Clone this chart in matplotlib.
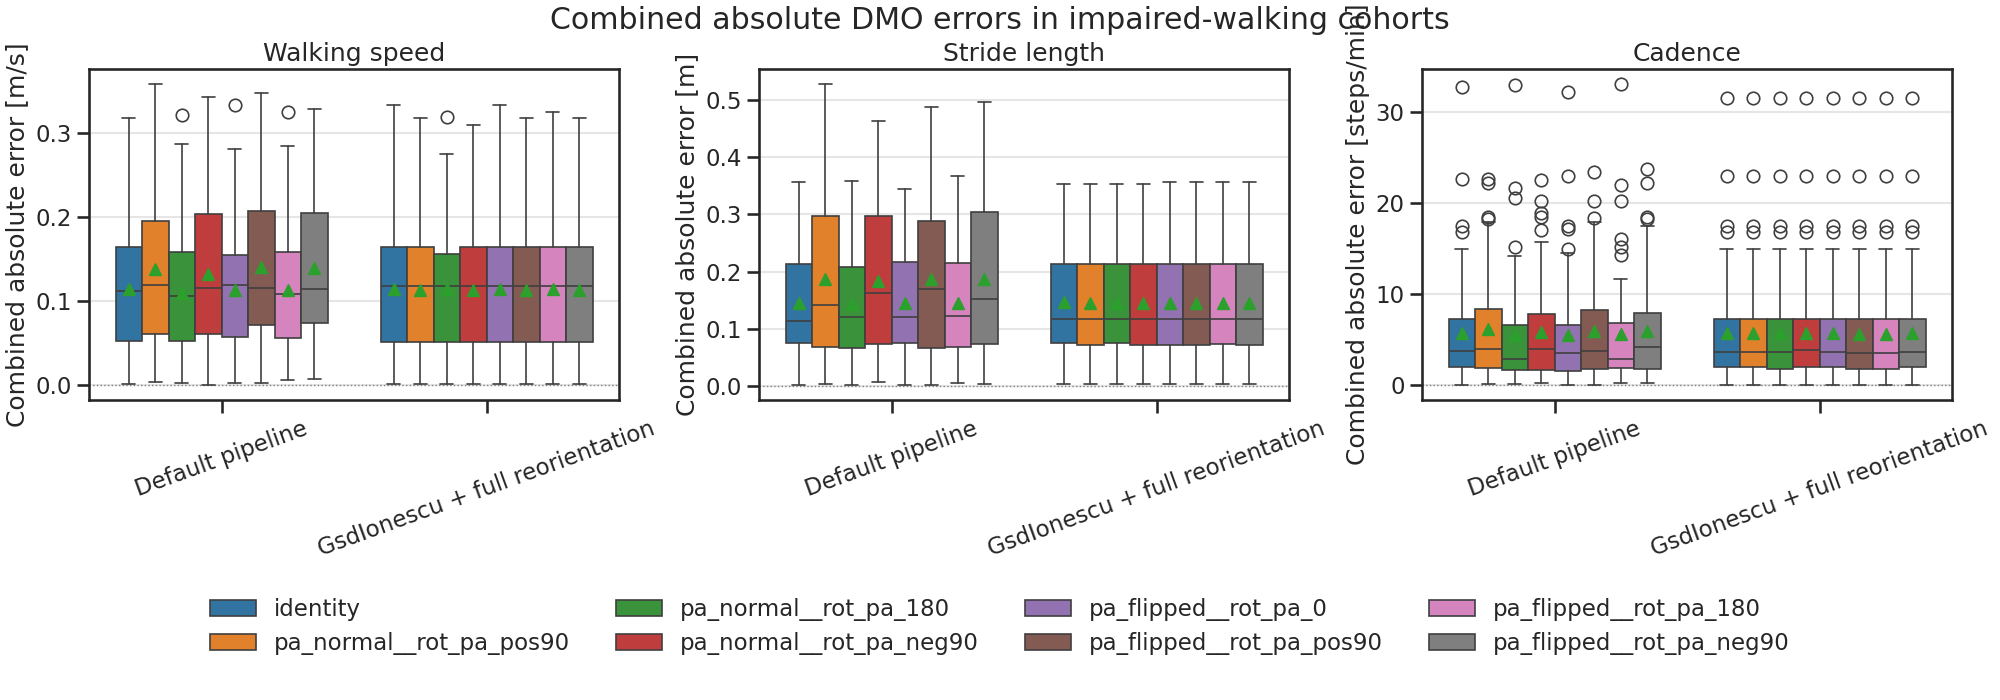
import numpy as np
import seaborn as sns
from matplotlib import pyplot as plt
from matplotlib.patches import Patch

sns.set_theme(context="talk", style="ticks")
plt.rcParams["font.family"] = ["DejaVu Sans"]

hue_labels = [
    "identity", "pa_normal__rot_pa_pos90", "pa_normal__rot_pa_180", "pa_normal__rot_pa_neg90",
    "pa_flipped__rot_pa_0", "pa_flipped__rot_pa_pos90", "pa_flipped__rot_pa_180", "pa_flipped__rot_pa_neg90",
]
pipelines = ["Default pipeline", "GsdIonescu + full reorientation"]

# walking speed [m/s]  (first list: default pipeline, second: GsdIonescu)
speed_whislo = [[0.001, 0.003, 0.002, 0.0, 0.002, 0.002, 0.006, 0.007],
                [0.001, 0.001, 0.001, 0.001, 0.001, 0.001, 0.001, 0.001]]
speed_q1 = [[0.052, 0.061, 0.052, 0.061, 0.057, 0.071, 0.056, 0.074],
            [0.051, 0.051, 0.051, 0.051, 0.051, 0.051, 0.051, 0.051]]
speed_med = [[0.112, 0.119, 0.106, 0.116, 0.119, 0.116, 0.108, 0.114],
             [0.118, 0.118, 0.118, 0.118, 0.118, 0.118, 0.118, 0.118]]
speed_q3 = [[0.165, 0.196, 0.159, 0.204, 0.155, 0.208, 0.159, 0.205],
            [0.165, 0.165, 0.156, 0.165, 0.165, 0.165, 0.165, 0.165]]
speed_whishi = [[0.319, 0.359, 0.287, 0.343, 0.282, 0.348, 0.285, 0.329],
                [0.334, 0.319, 0.276, 0.310, 0.334, 0.319, 0.325, 0.319]]
speed_mean = [[0.114, 0.138, 0.110, 0.132, 0.113, 0.141, 0.113, 0.139],
              [0.114, 0.113, 0.114, 0.113, 0.114, 0.113, 0.114, 0.113]]
speed_fliers = [[[], [], [0.322], [], [0.334], [], [0.325], []],
                [[], [], [0.320], [], [], [], [], []]]

# stride length [m]
stride_whislo = [[0.002, 0.0035, 0.002, 0.008, 0.002, 0.002, 0.006, 0.0035],
                 [0.0035, 0.0035, 0.0035, 0.0035, 0.0035, 0.0035, 0.0035, 0.0035]]
stride_q1 = [[0.075, 0.069, 0.066, 0.073, 0.075, 0.066, 0.069, 0.073],
             [0.075, 0.071, 0.075, 0.071, 0.071, 0.071, 0.073, 0.071]]
stride_med = [[0.113, 0.141, 0.120, 0.162, 0.120, 0.169, 0.122, 0.153],
              [0.117, 0.117, 0.117, 0.117, 0.117, 0.117, 0.117, 0.117]]
stride_q3 = [[0.213, 0.297, 0.208, 0.298, 0.216, 0.288, 0.215, 0.304],
             [0.213, 0.213, 0.213, 0.213, 0.213, 0.213, 0.213, 0.213]]
stride_whishi = [[0.356, 0.528, 0.358, 0.463, 0.344, 0.487, 0.367, 0.497],
                 [0.354, 0.354, 0.354, 0.354, 0.356, 0.356, 0.356, 0.356]]
stride_mean = [[0.146, 0.188, 0.143, 0.184, 0.146, 0.187, 0.145, 0.187],
               [0.147, 0.146, 0.146, 0.146, 0.146, 0.146, 0.146, 0.146]]
stride_fliers = [[[], [], [], [], [], [], [], []],
                 [[], [], [], [], [], [], [], []]]

# cadence [steps/min]
cad_whislo = [[0.0, 0.1, 0.1, 0.2, 0.0, 0.0, 0.2, 0.2],
              [0.0, 0.0, 0.0, 0.0, 0.0, 0.0, 0.0, 0.0]]
cad_q1 = [[2.0, 1.9, 1.65, 1.65, 1.5, 1.7, 1.9, 1.7],
          [1.95, 1.95, 1.7, 1.95, 1.95, 1.7, 1.7, 1.95]]
cad_med = [[3.7, 3.9, 2.8, 4.0, 3.55, 3.7, 2.8, 4.2],
           [3.65, 3.65, 3.65, 3.8, 3.65, 3.55, 3.55, 3.65]]
cad_q3 = [[7.3, 8.4, 6.6, 7.8, 6.6, 8.2, 6.8, 7.95],
          [7.3, 7.3, 7.3, 7.3, 7.3, 7.3, 7.3, 7.3]]
cad_whishi = [[14.9, 17.9, 14.2, 15.7, 14.5, 17.9, 11.7, 17.5],
              [14.9, 14.9, 14.9, 14.9, 14.9, 14.9, 14.9, 14.9]]
cad_mean = [[5.75, 6.1, 5.5, 5.85, 5.5, 5.95, 5.65, 5.95],
            [5.75, 5.75, 5.7, 5.75, 5.75, 5.65, 5.65, 5.75]]
cad_fliers = [[[32.8, 22.7, 17.5, 16.8], [22.7, 22.2, 18.5, 18.3], [33.0, 21.7, 20.6, 15.2],
               [22.5, 20.2, 18.9, 18.5, 17.0], [32.2, 23.0, 17.5, 17.2, 14.9], [23.4, 20.2, 18.4],
               [33.1, 22.0, 20.2, 16.0, 15.2, 14.3], [23.7, 22.2, 18.5, 18.3]],
              [[31.6, 23.0, 17.5, 16.8], [31.6, 23.0, 17.5, 16.8], [31.6, 23.0, 17.5, 16.8],
               [31.6, 23.0, 17.5, 16.8], [31.6, 23.0, 17.5, 16.8], [31.6, 23.0, 17.5, 16.8],
               [31.6, 23.0, 17.5, 16.8], [31.6, 23.0, 17.5, 16.8]]]

panels = [
    ("Walking speed", "Combined absolute error [m/s]",
     speed_whislo, speed_q1, speed_med, speed_q3, speed_whishi, speed_mean, speed_fliers),
    ("Stride length", "Combined absolute error [m]",
     stride_whislo, stride_q1, stride_med, stride_q3, stride_whishi, stride_mean, stride_fliers),
    ("Cadence", "Combined absolute error [steps/min]",
     cad_whislo, cad_q1, cad_med, cad_q3, cad_whishi, cad_mean, cad_fliers),
]

colors = sns.color_palette("tab10", desat=0.75)[:8]
line_color = "#3f3f3f"
lw = 1.2

fig = plt.figure(figsize=(20, 7), dpi=100)
lefts = [0.0445, 0.3795, 0.711]

n_hue = len(hue_labels)
box_w = 0.8 / n_hue
offsets = (np.arange(n_hue) - (n_hue - 1) / 2) * box_w

for left, (title, ylabel, wlo, q1, med, q3, whi, mean, fl) in zip(lefts, panels):
    ax = fig.add_axes([left, 0.4286, 0.265, 0.4729])
    for g in range(len(pipelines)):
        for h in range(n_hue):
            stats = [dict(whislo=wlo[g][h], q1=q1[g][h], med=med[g][h], q3=q3[g][h],
                          whishi=whi[g][h], mean=mean[g][h], fliers=fl[g][h])]
            ax.bxp(stats, positions=[g + offsets[h]], widths=box_w, patch_artist=True,
                   showmeans=True, manage_ticks=False,
                   boxprops=dict(facecolor=colors[h], edgecolor=line_color, linewidth=lw),
                   medianprops=dict(color=line_color, linewidth=lw),
                   whiskerprops=dict(color=line_color, linewidth=lw),
                   capprops=dict(color=line_color, linewidth=lw),
                   flierprops=dict(marker="o", markerfacecolor="none",
                                   markeredgecolor=line_color, markersize=9, markeredgewidth=lw),
                   meanprops=dict(marker="^", markerfacecolor="#2ca02c",
                                  markeredgecolor="#2ca02c", markersize=8))
    ax.axhline(0, color="gray", linestyle=":", linewidth=1, zorder=1)
    ax.grid(axis="y", color="#e6e6e6", linewidth=1.5)
    ax.set_axisbelow(True)
    ax.set_xlim(-0.5, len(pipelines) - 0.5)
    ax.set_xticks(range(len(pipelines)))
    ax.set_xticklabels(pipelines, rotation=20)
    ax.set_title(title)
    ax.set_ylabel(ylabel)

fig.suptitle("Combined absolute DMO errors in impaired-walking cohorts", y=0.992)

handles = [Patch(facecolor=c, edgecolor=line_color, linewidth=lw) for c in colors]
fig.legend(handles, hue_labels, loc="center", bbox_to_anchor=(0.5, 0.105), ncol=4, frameon=False)

fig.savefig("out.png", dpi=100)
